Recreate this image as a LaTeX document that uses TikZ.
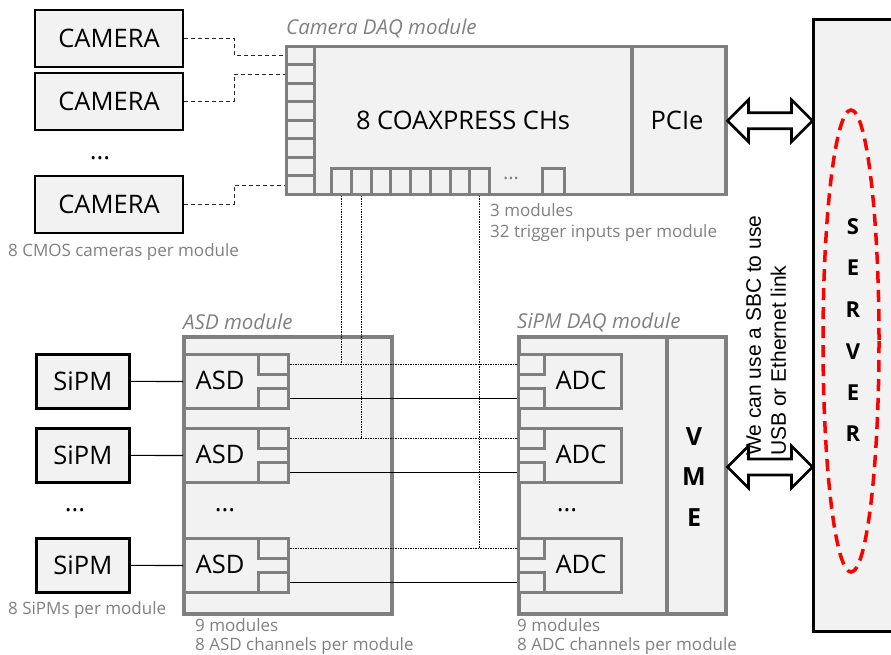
\documentclass[tikz,border=0pt]{standalone}
\usepackage{fontspec}
\setmainfont{Open Sans}
\newfontfamily\arialfont{Liberation Sans}
\usetikzlibrary{calc}
\definecolor{boxfill}{HTML}{F2F2F2}
\definecolor{modgray}{HTML}{7F7F7F}
\definecolor{notegray}{HTML}{808080}
\definecolor{srvred}{HTML}{FF0000}
\begin{document}
\begin{tikzpicture}[x=1pt,y=-1pt,
  box/.style={rectangle, draw=black, line width=2.8pt, fill=boxfill, inner sep=0pt, font=\fontsize{25.5}{30}\selectfont},
  module/.style={rectangle, draw=modgray, line width=3.5pt, fill=boxfill, inner sep=0pt, anchor=north west},
  port/.style={rectangle, draw=modgray, line width=3pt, fill=boxfill, inner sep=0pt, anchor=north west},
  big/.style={font=\fontsize{25.5}{30}\selectfont, inner sep=0pt},
  bigbold/.style={font=\fontsize{25}{30}\selectfont\bfseries, inner sep=0pt},
  srvletter/.style={font=\fontsize{22}{26}\selectfont\bfseries, inner sep=0pt},
  note/.style={font=\fontsize{17}{20}\selectfont, text=notegray, anchor=west, inner sep=0pt},
  modlabel/.style={font=\itshape\fontsize{20.5}{24}\selectfont, text=notegray, anchor=west, inner sep=0pt},
  camlink/.style={draw=black!85, line width=1.3pt, dash pattern=on 4pt off 3pt},
  dotlink/.style={draw=black, line width=1.2pt, dash pattern=on 1.5pt off 1pt},
  sollink/.style={draw=black, line width=1.1pt},
  dblarrow/.style={draw=black, line width=2.8pt, fill=white, line join=miter}
]
\useasboundingbox (0,0) rectangle (891,655);

% cameras
\node[box, minimum width=148pt, minimum height=57pt] (cam1) at (109,38.5) {CAMERA};
\node[box, minimum width=148pt, minimum height=57pt] (cam2) at (109,101.5) {CAMERA};
\node[big] (camdots) at (100,158) {...};
\node[box, minimum width=148pt, minimum height=57pt] (cam3) at (109,204.5) {CAMERA};
\node[note] (camnote) at (8,252) {8 CMOS cameras per module};

% camera DAQ module
\node[modlabel] (daqlabel) at (286,28) {Camera DAQ module};
\node[module, minimum width=345pt, minimum height=148pt] (daq) at (285,45) {};
\node[module, minimum width=94pt, minimum height=148pt] (pcie) at (630,45) {};
\node[big] (coax) at (463,120) {8 COAXPRESS CHs};
\node[big] (pcietxt) at (677,120) {PCIe};
\foreach \i in {1,...,8}
  \node[port, minimum width=28pt, minimum height=18.5pt] (p\i) at (285,{45+18.5*(\i-1)}) {};
\foreach \i in {1,...,8}
  \node[port, minimum width=19.75pt, minimum height=26pt] (b\i) at ({330+19.75*(\i-1)},167) {};
\node[port, minimum width=22pt, minimum height=26pt] (blast) at (541,167) {};
\node[font=\fontsize{20}{24}\selectfont, text=notegray, inner sep=0pt] (bdots) at (511,178) {...};
\node[note] (daqnote1) at (490,210) {3 modules};
\node[note] (daqnote2) at (490,233) {32 trigger inputs per module};

\draw[camlink] (cam1.east) -- ++(50,0) |- (p1.west);
\draw[camlink] (cam2.east) -- ++(50,0) |- (p2.west);
\draw[camlink] (cam3.east) -- ++(50,0) |- (p8.west);

% ASD and SiPM DAQ modules
\node[modlabel] (asdlabel) at (183,322) {ASD module};
\node[module, minimum width=208pt, minimum height=277pt] (asdmod) at (182,335) {};
\node[modlabel] (sdaqlabel) at (517,322) {SiPM DAQ module};
\node[module, minimum width=148pt, minimum height=277pt] (sdaq) at (517,335) {};
\node[module, minimum width=59pt, minimum height=277pt] (vme) at (665,335) {};
\node[bigbold] (vV) at (694,437) {V};
\node[bigbold] (vM) at (694,477) {M};
\node[bigbold] (vE) at (694,518) {E};

\foreach \r/\y in {1/353,2/427,3/537}{
  \node[port, minimum width=104pt, minimum height=54pt] (asd\r) at (183,\y) {};
  \node[port, minimum width=30pt, minimum height=20pt] (asdA\r) at (257,\y) {};
  \node[port, minimum width=30pt, minimum height=20pt] (asdB\r) at (257,\y+34) {};
  \node[big] (asdt\r) at (220,\y+27) {ASD};
  \node[port, minimum width=103pt, minimum height=54pt] (adc\r) at (517,\y) {};
  \node[port, minimum width=26pt, minimum height=20pt] (adcA\r) at (517,\y) {};
  \node[port, minimum width=26pt, minimum height=20pt] (adcB\r) at (517,\y+34) {};
  \node[big] (adct\r) at (581,\y+27) {ADC};
  \node[box, minimum width=93pt, minimum height=54pt, anchor=north west] (sipm\r) at (35,\y) {SiPM};
  \draw[sollink] (sipm\r.east) -- (asd\r.west);
  \draw[dotlink] (asdA\r.east) -- (adcA\r.west);
  \draw[sollink] (asdB\r.east) -- (adcB\r.west);
}
\node[big] (sdots) at (75,510) {...};
\node[big] (adots) at (225,510) {...};
\node[big] (cdots) at (567,510) {...};

\draw[dotlink] (b1.south) -- (b1.south |- asdA1.east);
\draw[dotlink] (b2.south) -- (b2.south |- asdA2.east);
\draw[dotlink] (b8.south) -- (b8.south |- asdA3.east);

\node[note] (sipmnote) at (8,610) {8 SiPMs per module};
\node[note] (asdnote1) at (195,625) {9 modules};
\node[note] (asdnote2) at (195,646) {8 ASD channels per module};
\node[note] (adcnote1) at (517,625) {9 modules};
\node[note] (adcnote2) at (517,646) {8 ADC channels per module};

% server
\node[rectangle, draw=black, line width=3pt, fill=boxfill, anchor=north west, minimum width=100pt, minimum height=612pt] (server) at (812,18) {};
\draw[draw=srvred, line width=3.5pt, dash pattern=on 12pt off 7pt] (851,341) ellipse [x radius=28, y radius=231];
\foreach \l/\yy [count=\k] in {S/227,E/268,R/310,V/352,E/393,R/434}
  \node[srvletter] (srv\k) at (853,\yy) {\l};

% link arrows
\draw[dblarrow] (pcie.east) -- ++(21,-21) -- ++(0,13) -- ++(43,0) -- ++(0,-13) -- ++(21,21) -- ++(-21,21) -- ++(0,-13) -- ++(-43,0) -- ++(0,13) -- cycle;
\coordinate (vmeport) at (vme.east |- 0,467);
\draw[dblarrow] (vmeport) -- ++(21,-21) -- ++(0,13) -- ++(43,0) -- ++(0,-13) -- ++(21,21) -- ++(-21,21) -- ++(0,-13) -- ++(-43,0) -- ++(0,13) -- cycle;

\node[rotate=90, anchor=north west, align=left, inner sep=0pt, font=\arialfont\fontsize{21}{25}\selectfont] (sbc) at (746,456) {We can use a SBC to use\\USB or Ethernet link};
\end{tikzpicture}
\end{document}
